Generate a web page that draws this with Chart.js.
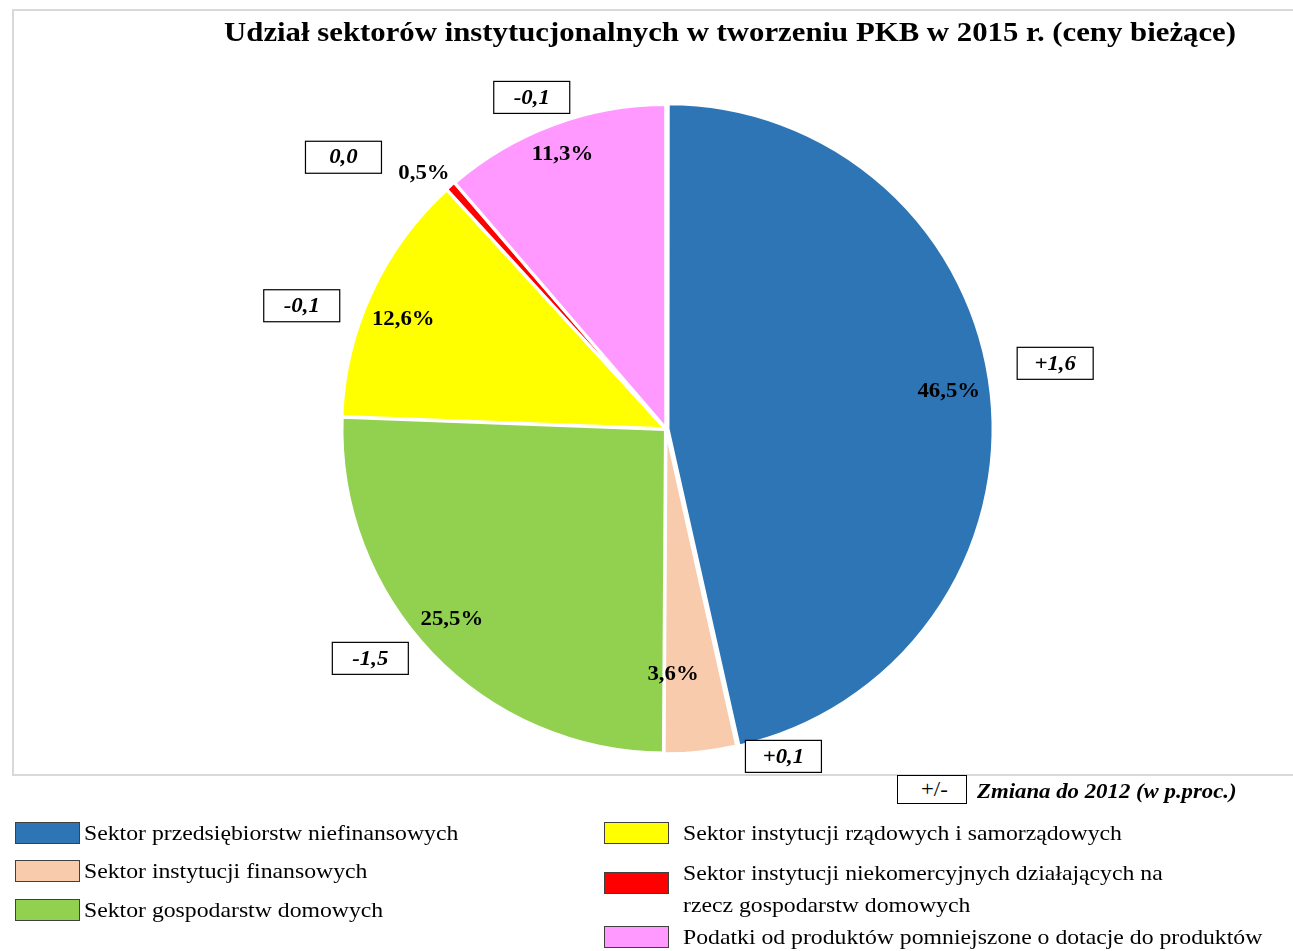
<!DOCTYPE html>
<html>
<head>
<meta charset="utf-8">
<script src="https://cdn.jsdelivr.net/npm/chart.js@4/dist/chart.umd.min.js"></script>
<style>
  body { margin: 0; background: #fff; font-family: "Liberation Serif", "Times New Roman", serif; }
  #wrap { position: relative; width: 1293px; height: 951px; overflow: hidden; }
  #frame { position: absolute; left: 12px; top: 9px; width: 1290px; height: 763px; border: 2px solid #d9d9d9; }
  #pkb { position: absolute; left: 0; top: 0; }
  .item { position: absolute; font-size: 21px; line-height: 32px; color: #000; white-space: nowrap; transform: scaleX(1.13); transform-origin: 0 0; }
  .sw { position: absolute; width: 63px; height: 20px; border: 1px solid #404040; }
  #note { position: absolute; left: 897px; top: 775px; width: 68px; height: 27px; border: 1px solid #000; background: #fff; }
  #note span { position: absolute; left: 23px; top: 0; font-size: 20px; line-height: 26px; transform: scaleX(1.14); transform-origin: 0 0; }
  #noteTxt { position: absolute; left: 977px; top: 780px; font-size: 20px; font-weight: bold; font-style: italic; white-space: nowrap; transform: scaleX(1.14); transform-origin: 0 0; }
</style>
</head>
<body>
<div id="wrap">
  <div id="frame"></div>
  <canvas id="pkb" width="1293" height="951"></canvas>
  <div id="note"><span>+/-</span></div>
  <div id="noteTxt">Zmiana do 2012 (w p.proc.)</div>
  <div id="legend"></div>
</div>
<script>
// Udział sektorów w PKB 2015
var title = 'Udział sektorów instytucjonalnych w tworzeniu PKB w 2015 r. (ceny bieżące)';
var sectors = [
    'Sektor przedsiębiorstw niefinansowych',
    'Sektor instytucji finansowych',
    'Sektor gospodarstw domowych',
    'Sektor instytucji rządowych i samorządowych',
    ['Sektor instytucji niekomercyjnych działających na', 'rzecz gospodarstw domowych'],
    'Podatki od produktów pomniejszone o dotacje do produktów'
];
var shares = [46.5, 3.6, 25.5, 12.6, 0.5, 11.3];
var changes = [1.6, 0.1, -1.5, -0.1, 0.0, -0.1];
var colors = ['#2e75b6', '#f8cbad', '#92d050', '#ffff00', '#ff0000', '#ff99ff'];

var STRETCH = 1.14; // the original fonts are a bit wider than Liberation Serif

function fmt(v) {
    return v.toFixed(1).replace('.', ',');
}
function fmtChange(v) {
    if (v > 0) return '+' + fmt(v);
    return fmt(v);
}
function wideText(ctx, txt, x, y) {
    ctx.save();
    ctx.translate(x, y);
    ctx.scale(STRETCH, 1);
    ctx.fillText(txt, 0, 0);
    ctx.restore();
}

// label spots relative to the pie centre, in radius units
var pctSpots = [[0.874, -0.114], [0.022, 0.760], [-0.662, 0.591], [-0.812, -0.338], [-0.748, -0.788], [-0.320, -0.846]];
var boxSpots = [[1.203, -0.203], [0.363, 1.012], [-0.914, 0.709], [-1.126, -0.381], [-0.997, -0.840], [-0.415, -1.025]];

var labelPlugin = {
    id: 'pieLabels',
    afterDatasetsDraw: function (chart) {
        var ctx = chart.ctx;
        var arcs = chart.getDatasetMeta(0).data;
        var ds = chart.data.datasets[0];
        ctx.save();
        ctx.textBaseline = 'middle';
        // title
        ctx.textAlign = 'right';
        ctx.fillStyle = '#000';
        ctx.font = 'bold 27px "Liberation Serif"';
        wideText(ctx, title, 1236, 34);

        ctx.textAlign = 'center';
        arcs.forEach(function (arc, i) {
            var r = arc.outerRadius;
            var cx = arc.x, cy = arc.y;
            // percent
            ctx.fillStyle = '#000';
            ctx.font = 'bold 20px "Liberation Serif"';
            wideText(ctx, fmt(ds.data[i]) + '%', cx + pctSpots[i][0] * r, cy + pctSpots[i][1] * r);
            // change box
            var bx = cx + boxSpots[i][0] * r, by = cy + boxSpots[i][1] * r;
            ctx.fillStyle = '#fff';
            ctx.fillRect(bx - 38, by - 16, 76, 32);
            ctx.strokeStyle = '#000';
            ctx.lineWidth = 1.2;
            ctx.strokeRect(bx - 38, by - 16, 76, 32);
            ctx.fillStyle = '#000';
            ctx.font = 'italic bold 20px "Liberation Serif"';
            wideText(ctx, fmtChange(changes[i]), bx, by + 1);
        });
        ctx.restore();
    }
};

var ctx = document.getElementById('pkb').getContext('2d');
var myChart = new Chart(ctx, {
    type: 'pie',
    data: {
        labels: sectors,
        datasets: [{
            data: shares,
            backgroundColor: colors,
            borderColor: '#ffffff',
            borderWidth: 3,
            offset: [8, 3, 3, 3, 3, 3]
        }]
    },
    options: {
        responsive: false,
        animation: false,
        layout: {
            padding: { top: 100, left: 96, right: 57, bottom: 193 }
        },
        plugins: {
            legend: { display: false },
            tooltip: { enabled: false },
            title: { display: false }
        }
    },
    plugins: [labelPlugin]
});

// legend in two columns under the chart
var legendPos = [[15, 822], [15, 860], [15, 899], [604, 822], [604, 862], [604, 926]];
var legend = document.getElementById('legend');
sectors.forEach(function (s, i) {
    var lines = Array.isArray(s) ? s : [s];
    var x = legendPos[i][0], y = legendPos[i][1];
    var sw = document.createElement('div');
    sw.className = 'sw';
    sw.style.left = x + 'px';
    sw.style.top = (y + (lines.length > 1 ? 10 : 0)) + 'px';
    sw.style.background = colors[i];
    legend.appendChild(sw);
    var t = document.createElement('div');
    t.className = 'item';
    t.style.left = (x + (i < 3 ? 69 : 79)) + 'px';
    t.style.top = (y - 5) + 'px';
    t.innerHTML = lines.join('<br>');
    legend.appendChild(t);
});
</script>
</body>
</html>
